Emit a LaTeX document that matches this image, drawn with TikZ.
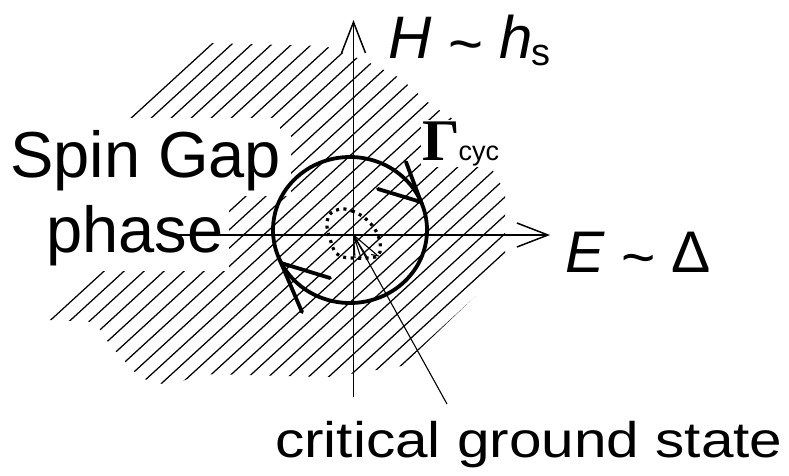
\documentclass[tikz,border=0pt]{standalone}
\usepackage{graphicx}
\usepackage{fontspec}
\setmainfont{Liberation Sans}
\newfontfamily\serifbold{Liberation Serif}
\usetikzlibrary{arrows.meta}
\begin{document}
\begin{tikzpicture}[x=1pt,y=-1pt,
  axis/.style={line width=1.5pt, -{Straight Barb[length=31pt,width=24pt,line width=1.5pt]}},
  hatchline/.style={line width=1.25pt},
  orbit/.style={line width=3.8pt},
  flowtip/.style={line width=3.8pt, line cap=round, line join=miter},
  thinline/.style={line width=1.1pt},
  knock/.style={fill=white, draw=none},
  lbl/.style={inner sep=0pt, anchor=base west},
  dotloop/.style={line width=3.2pt, dash pattern=on 3pt off 4.5pt}
]
\useasboundingbox (0,0) rectangle (789,475);
\fill[white] (0,0) rectangle (789,475);

% hatched region
\begin{scope}
\clip (120,125) -- (210,43) -- (325,46) -- (368,62) -- (400,78) -- (430,104) -- (470,130) -- (505,192) -- (505,268) -- (402,366) -- (330,377) -- (200,374) -- (170,386) -- (140,378) -- (110,345) -- (95,322) -- (48,320) -- (100,265) -- cycle;
\foreach \k in {-3,...,32} {
  \draw[hatchline] ({3.5+20*\k-300},{235+300*0.916}) -- ({3.5+20*\k+300},{235-300*0.916});
}
\end{scope}

% white knock-outs behind the phase label
\fill[knock] (4,118) rectangle (280,196);
\fill[knock] (280,136) rectangle (291,196);
\fill[knock] (38,196) rectangle (229,271);

% labels
\node[lbl] (spin) at (10,177) {\fontsize{65}{75}\selectfont Spin Gap};
\node[lbl] (phase) at (46,252) {\fontsize{65}{75}\selectfont phase};
\node[lbl] (hlab) at (388,58) {\fontsize{60}{60}\selectfont\textit{H} \raisebox{-6pt}{\textasciitilde} \textit{h}\kern-2pt\raisebox{-7pt}{\fontsize{38}{38}\selectfont s}};
\node[lbl] (elab) at (565,272) {\fontsize{58.7}{60}\selectfont\textit{E} \raisebox{-5pt}{\textasciitilde} Δ};
\node[lbl, fill=white, inner sep=1.5pt] (gam) at (420.5,160) {{\serifbold\bfseries\fontsize{59}{59}\selectfont Γ}\kern-1pt{\fontsize{27}{27}\selectfont cyc}};
\node[lbl] (cgs) at (275,457) {\scalebox{1.17}[1]{\fontsize{50}{50}\selectfont critical ground state}};

% axes
\coordinate (O) at (353.5,235);
\coordinate (ytop) at (353.5,20);
\coordinate (ybot) at (353.5,397);
\coordinate (xleft) at (177,235);
\coordinate (xright) at (550,235);
\draw[axis] (ybot) -- (ytop);
\draw[axis] (xleft) -- (xright);

% cycle
\draw[orbit] (350,230) ellipse [x radius=77pt, y radius=73pt];
\coordinate (tipR) at (421,202);
\coordinate (tipL) at (281,263);
\draw[flowtip] (406,162) -- (tipR) -- (378,189);
\draw[flowtip] (302,312) -- (tipL) -- (330,278);

% critical loop
\draw[dotloop]
  plot[smooth cycle, tension=0.7] coordinates {(342,209) (352,211) (362,216) (371,224) (377,233) (380,243) (380,252) (375,257) (365,258) (351,258) (340,256) (334,250) (331,242) (328,232) (327,222) (331,213)};

% pointer fan
\coordinate (p1) at (355,258);
\coordinate (p2) at (361,258);
\coordinate (p3) at (367,257);
\coordinate (p4) at (377,255);
\coordinate (pend) at (447,404);
\draw[thinline] (O) -- (p1) (O) -- (p2) (O) -- (p3) (O) -- (p4);
\draw[thinline] (371,254.5) -- (379,256);
\draw[thinline] (O) -- (pend);
\end{tikzpicture}
\end{document}
